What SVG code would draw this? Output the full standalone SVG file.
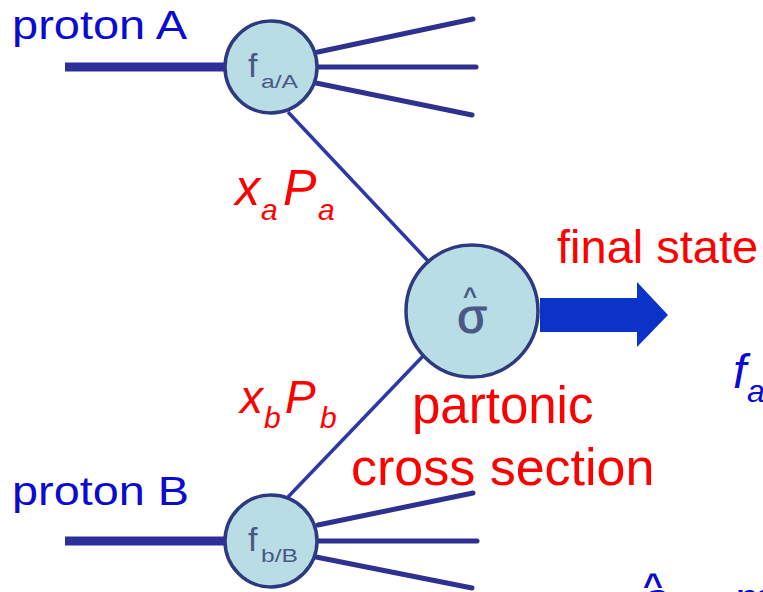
<svg xmlns="http://www.w3.org/2000/svg" width="763" height="592" viewBox="0 0 763 592">
<style>
.blob{fill:#b9dde4;stroke:#2e3a80;stroke-width:3.5}
.fan{stroke:#2f3190;stroke-width:5;stroke-linecap:round;fill:none}
.beam{stroke:#2c2f98;stroke-width:9;fill:none}
.thin{stroke:#2b38a6;stroke-width:3.5;fill:none}
.lbl{font-family:"Liberation Sans",Arial,sans-serif;fill:#0a0ad0}
.red{font-family:"Liberation Sans",Arial,sans-serif;fill:#ff0000}
.ital{font-style:italic}
.in{font-family:"Liberation Sans",Arial,sans-serif;fill:#4a5886}
</style>
<rect width="763" height="592" fill="#ffffff"/>
<g id="connectors">
  <line class="beam" x1="65" y1="67" x2="226" y2="67"/>
  <line class="beam" x1="65" y1="541" x2="226" y2="541"/>
  <line class="fan" x1="318" y1="52" x2="473" y2="19"/>
  <line class="fan" x1="318" y1="67" x2="476" y2="67"/>
  <line class="fan" x1="316" y1="83" x2="472" y2="115"/>
  <line class="fan" x1="318" y1="525" x2="473" y2="493"/>
  <line class="fan" x1="318" y1="541" x2="477" y2="541"/>
  <line class="fan" x1="316" y1="557" x2="472" y2="588"/>
  <line class="thin" x1="288" y1="112" x2="428" y2="261"/>
  <line class="thin" x1="424" y1="355" x2="288" y2="497"/>
  <polygon id="arrow" points="540,298 637,298 637,282 668,315 637,347 637,332 540,332" fill="#0b33c8"/>
</g>
<g id="node-fA">
  <circle class="blob" cx="271" cy="67" r="46"/>
  <text class="in" x="248" y="77" font-size="34">f</text>
  <text class="in" x="261" y="88" font-size="18" textLength="37" lengthAdjust="spacingAndGlyphs">a/A</text>
</g>
<g id="node-fB">
  <circle class="blob" cx="271" cy="541" r="46"/>
  <text class="in" x="248" y="551" font-size="34">f</text>
  <text class="in" x="261" y="562" font-size="18" textLength="37" lengthAdjust="spacingAndGlyphs">b/B</text>
</g>
<g id="node-sigma">
  <circle class="blob" cx="472" cy="311" r="66"/>
  <text class="in" x="470" y="304" font-size="24" font-weight="bold" text-anchor="middle">^</text>
  <text class="in" x="472" y="333" font-size="48" stroke="#4a5886" stroke-width="1.2" text-anchor="middle">σ</text>
</g>
<g id="labels">
  <text class="lbl" x="12" y="39" font-size="40" textLength="175" lengthAdjust="spacingAndGlyphs">proton A</text>
  <text class="lbl" x="12" y="505" font-size="40" textLength="177" lengthAdjust="spacingAndGlyphs">proton B</text>
  <text class="red ital" x="235" y="205" font-size="50">x</text>
  <text class="red ital" x="261" y="220" font-size="30">a</text>
  <text class="red ital" x="283" y="205" font-size="50">P</text>
  <text class="red ital" x="318" y="220" font-size="30">a</text>
  <text class="red ital" x="240" y="413" font-size="46">x</text>
  <text class="red ital" x="264" y="428" font-size="30">b</text>
  <text class="red ital" x="285" y="413" font-size="46">P</text>
  <text class="red ital" x="320" y="428" font-size="30">b</text>
  <text class="red" x="557" y="263" font-size="47">final state</text>
  <text class="red" x="412" y="423" font-size="51">partonic</text>
  <text class="red" x="351" y="485" font-size="52">cross section</text>
  <text class="lbl ital" x="733" y="388" font-size="48">f</text>
  <text class="lbl ital" x="747" y="402" font-size="32">a</text>
  <text class="lbl" x="653" y="596" font-size="34" font-weight="bold" text-anchor="middle">^</text>
  <text class="lbl ital" x="644" y="616" font-size="48">s</text>
  <text class="lbl ital" x="733" y="616" font-size="48">m</text>
</g>
</svg>
